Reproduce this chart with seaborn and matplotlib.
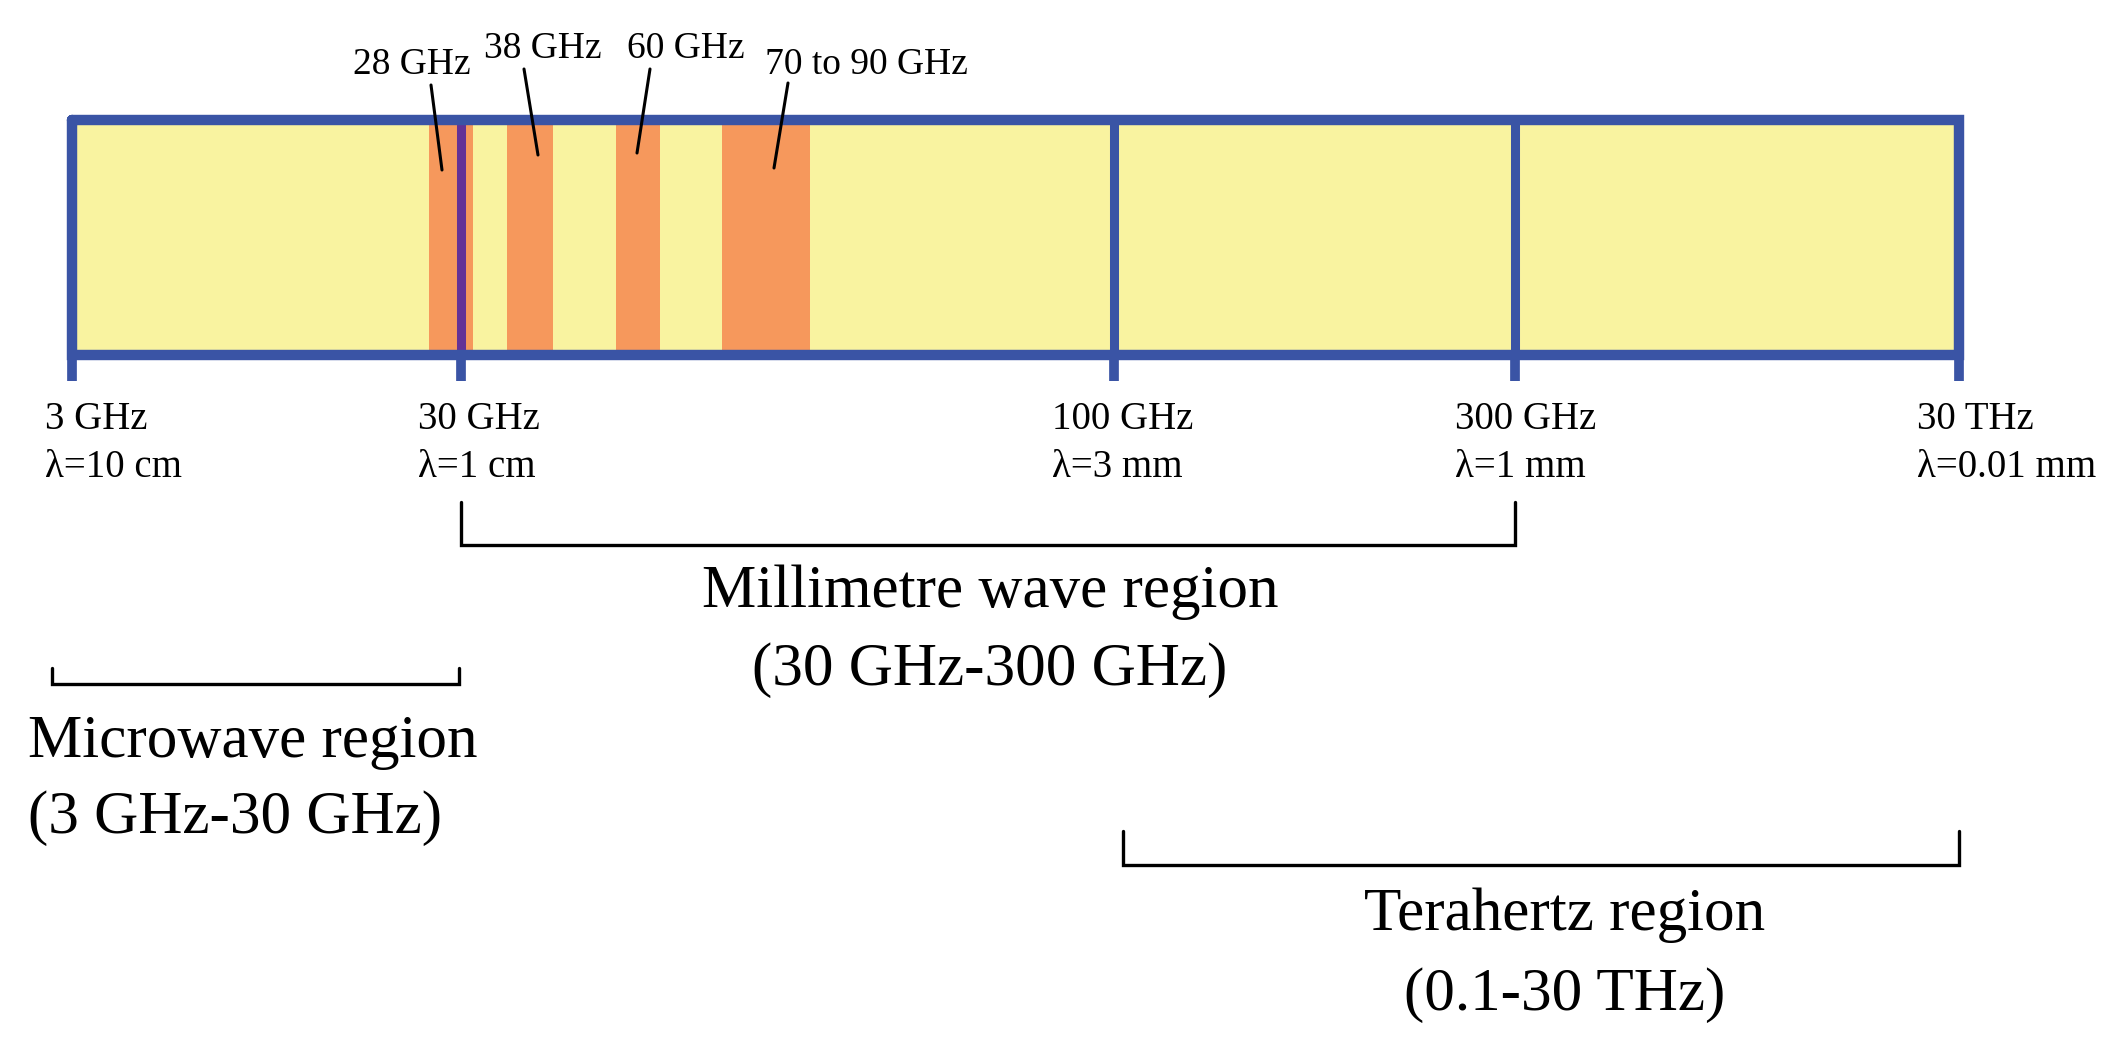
import numpy as np
import seaborn as sns
import matplotlib.pyplot as plt

# boundary tick labels (frequency and wavelength)
boundary_freqs = ["3 GHz", "30 GHz", "100 GHz", "300 GHz", "30 THz"]
boundary_lambdas = ["λ=10 cm", "λ=1 cm", "λ=3 mm", "λ=1 mm", "λ=0.01 mm"]

# 5G candidate bands
band_labels = ["28 GHz", "38 GHz", "60 GHz", "70 to 90 GHz"]

# regions below the bar
region_names = ["Millimetre wave region", "Microwave region", "Terahertz region"]
region_ranges = ["(30 GHz-300 GHz)", "(3 GHz-30 GHz)", "(0.1-30 THz)"]

# layout (schematic, pixel-like units)
boundary_x = [72, 461, 1114, 1515, 1959]
label_x = [45, 418, 1052, 1455, 1917]
band_spans = [(429, 473), (507, 553), (616, 660), (722, 810)]
band_text_xy = [(412, 74), (543, 58), (686, 58), (866, 74)]
band_leaders = [((431, 85), (442, 170)), ((524, 69), (538, 155)),
                ((650, 69), (637, 153)), ((788, 83), (774, 168))]
bracket_spans = [(461, 1515, 545, 502), (52, 459, 684, 668), (1123, 1959, 865, 831)]
region_text = [(990, 607, 685, "center"), (28, 757, 833, "left"), (1565, 930, 1010, "center")]

BLUE = "#3a54a5"
YELLOW = "#f9f3a0"
ORANGE = "#f6985c"
PURPLE = "#643296"
BAR_TOP, BAR_BOT, TICK_END = 120, 355, 381

sns.set_theme(style="white")
plt.rcParams['font.family'] = ['Liberation Serif', 'DejaVu Serif']
plt.rcParams['text.color'] = 'black'

fig = plt.figure(figsize=(21.18, 10.45), dpi=100)
ax = fig.add_axes([0, 0, 1, 1])
ax.set_xlim(0, 2118)
ax.set_ylim(1045, 0)
ax.axis("off")

# yellow spectrum bar
ax.fill_between([boundary_x[0], boundary_x[-1]], BAR_TOP, BAR_BOT, color=YELLOW, lw=0)

# orange bands
for x0, x1 in band_spans:
    ax.fill_between([x0, x1], BAR_TOP, BAR_BOT, color=ORANGE, lw=0)

# dividers and ticks below the bar
for i, x in enumerate(boundary_x):
    ax.plot([x, x], [BAR_BOT, TICK_END], color=BLUE, lw=7, solid_capstyle="butt")
    if 0 < i < len(boundary_x) - 1:
        c = PURPLE if i == 1 else BLUE
        ax.plot([x, x], [BAR_TOP, BAR_BOT], color=c, lw=6.5, solid_capstyle="butt")
ax.plot([boundary_x[0], boundary_x[-1], boundary_x[-1], boundary_x[0], boundary_x[0]],
        [BAR_TOP, BAR_TOP, BAR_BOT, BAR_BOT, BAR_TOP], color=BLUE, lw=7.5,
        solid_joinstyle="miter")

# boundary labels
for lx, f, lam in zip(label_x, boundary_freqs, boundary_lambdas):
    ax.text(lx, 429, f, fontsize=28, ha="left", va="baseline", color="black")
    ax.text(lx, 477, lam, fontsize=28, ha="left", va="baseline", color="black")

# band labels with leader lines
for (tx, ty), lab, ((x0, y0), (x1, y1)) in zip(band_text_xy, band_labels, band_leaders):
    ax.text(tx, ty, lab, fontsize=27, ha="center", va="baseline", color="black")
    ax.plot([x0, x1], [y0, y1], color="black", lw=2.2)

# region brackets
for x0, x1, yb, yt in bracket_spans:
    ax.plot([x0, x0, x1, x1], [yt, yb, yb, yt], color="black", lw=2.4,
            solid_joinstyle="miter")

for (tx, y1, y2, ha), name, rng in zip(region_text, region_names, region_ranges):
    ax.text(tx, y1, name, fontsize=44, ha=ha, va="baseline", color="black")
    ax.text(tx, y2, rng, fontsize=44, ha=ha, va="baseline", color="black")

fig.savefig("out.png", dpi=100, facecolor="white")
